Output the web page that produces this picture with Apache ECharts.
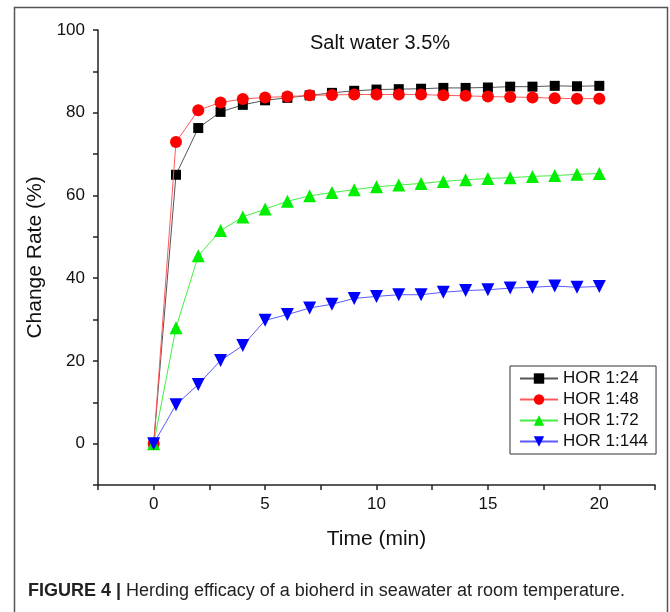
<!DOCTYPE html>
<html>
<head>
<meta charset="utf-8">
<script src="https://cdn.jsdelivr.net/npm/echarts@6/dist/echarts.min.js"></script>
<style>
html,body{margin:0;padding:0;background:#fff;}
#chart{width:670px;height:612px;}
</style>
</head>
<body>
<div id="chart"></div>
<script>
var times = [0,1,2,3,4,5,6,7,8,9,10,11,12,13,14,15,16,17,18,19,20];
var seriesNames = ['HOR 1:24','HOR 1:48','HOR 1:72','HOR 1:144'];
var hor24  = [0,65.0,76.3,80.2,81.9,83.0,83.6,84.2,84.8,85.3,85.6,85.7,85.8,86.0,86.0,86.1,86.3,86.3,86.5,86.4,86.5];
var hor48  = [0,72.9,80.6,82.5,83.3,83.7,83.9,84.2,84.3,84.4,84.4,84.4,84.4,84.2,84.1,83.9,83.8,83.7,83.5,83.4,83.4];
var hor72  = [0,28.0,45.4,51.5,54.8,56.7,58.6,59.9,60.7,61.4,62.1,62.5,62.9,63.4,63.8,64.1,64.3,64.6,64.8,65.1,65.3];
var hor144 = [0,9.4,14.3,20.1,23.7,29.8,31.2,32.8,33.7,35.1,35.6,36.0,36.0,36.6,37.0,37.2,37.6,37.8,38.1,37.8,38.0];
var chartTitle = 'Salt water 3.5%';
var xAxisName = 'Time (min)';
var yAxisName = 'Change Rate (%)';
var captionBold = 'FIGURE 4 |';
var captionText = 'Herding efficacy of a bioherd in seawater at room temperature.';

function pairs(ys){ return times.map(function(t,i){ return [t, ys[i]]; }); }

var FONT = "'Liberation Sans', Arial, sans-serif";
var chart = echarts.init(document.getElementById('chart'), null, {renderer:'canvas'});

var styles = [
  {data: hor24,  color:'#000000', line:'#555555', symbol:'rect', size:10, rotate:0},
  {data: hor48,  color:'#ff0000', line:'#ff5a5a', symbol:'circle', size:12, rotate:0},
  {data: hor72,  color:'#00ee00', line:'#44ee44', symbol:'triangle', size:13, rotate:0},
  {data: hor144, color:'#0000ff', line:'#5a5aff', symbol:'triangle', size:13, rotate:180}
];

var series = styles.map(function(s, i){
  return {
    name: seriesNames[i],
    type: 'line',
    data: pairs(s.data),
    symbol: s.symbol,
    symbolSize: s.size,
    symbolRotate: s.rotate,
    showAllSymbol: true,
    itemStyle: {color: s.color},
    lineStyle: {color: s.line, width: 1},
    emphasis: {disabled: true},
    animation: false,
    z: 2 + i
  };
});

chart.setOption({
  backgroundColor: '#fff',
  animation: false,
  title: [
    {
      text: chartTitle,
      left: 380, top: 33, textAlign: 'center', padding: 0,
      textStyle: {fontFamily: FONT, fontSize: 20, fontWeight: 'normal', color: '#111'}
    },
    {
      text: '{b|' + captionBold + '} ' + captionText,
      left: 28, top: 582, padding: 0,
      textStyle: {
        fontFamily: FONT, fontSize: 18, fontWeight: 'normal', color: '#222',
        rich: {b: {fontFamily: FONT, fontSize: 18, fontWeight: 'bold', color: '#222'}}
      }
    }
  ],
  grid: {left: 98, top: 30, right: 15, bottom: 127, containLabel: false},
  legend: {
    orient: 'vertical',
    left: 510, top: 366,
    padding: [4, 8, 4, 9],
    itemWidth: 38, itemHeight: 13, itemGap: 4,
    borderColor: '#333', borderWidth: 1,
    textStyle: {fontFamily: FONT, fontSize: 17, color: '#111'},
    data: seriesNames
  },
  xAxis: {
    type: 'value',
    min: -2.5, max: 22.5, interval: 2.5,
    name: xAxisName, nameLocation: 'middle', nameGap: 44,
    nameTextStyle: {fontFamily: FONT, fontSize: 21, color: '#111'},
    axisLine: {onZero: false, lineStyle: {color: '#222', width: 1.5}},
    axisTick: {show: true, inside: false, length: 5, lineStyle: {color: '#222', width: 1.5}},
    axisLabel: {
      margin: 11, fontFamily: FONT, fontSize: 17, color: '#111',
      formatter: function(v){ return (Math.abs(v % 5) < 1e-9) ? String(v) : ''; }
    },
    splitLine: {show: false}
  },
  yAxis: {
    type: 'value',
    min: -10, max: 100, interval: 10,
    name: yAxisName, nameLocation: 'middle', nameGap: 52,
    nameTextStyle: {fontFamily: FONT, fontSize: 21, color: '#111'},
    axisLine: {show: true, onZero: false, lineStyle: {color: '#222', width: 1.5}},
    axisTick: {show: true, inside: false, length: 5, lineStyle: {color: '#222', width: 1.5}},
    axisLabel: {
      margin: 13, fontFamily: FONT, fontSize: 17, color: '#111',
      formatter: function(v){ return (v >= 0 && v % 20 === 0) ? String(v) : ''; }
    },
    splitLine: {show: false}
  },
  graphic: [
    {
      type: 'polyline', silent: true, z: 100,
      shape: {points: [[14.5, 640], [14.5, 7.5], [667.5, 7.5], [667.5, 640]]},
      style: {stroke: '#555', lineWidth: 1.5, fill: null}
    }
  ],
  series: series
});
</script>
</body>
</html>
